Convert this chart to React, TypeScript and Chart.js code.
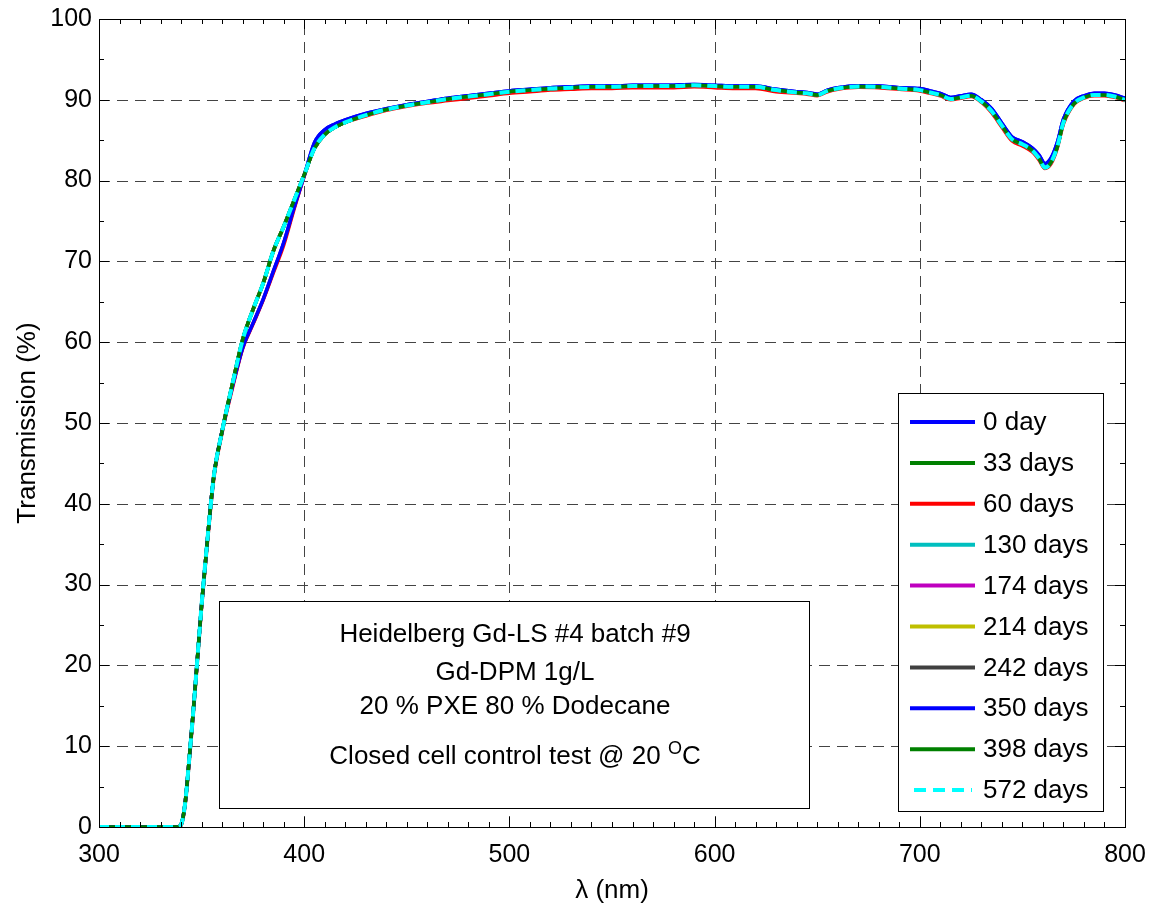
import React, { useEffect, useRef } from "react";
import { Chart, registerables } from "chart.js";

Chart.register(...registerables);

// ---- data ----
const wavelengths = [
  300, 320, 338, 340, 342, 344, 346, 348, 350, 353, 356, 360, 365, 370, 375, 380, 385, 390, 395, 400,
  405, 410, 415, 420, 430, 440, 450, 460, 470, 480, 490, 500, 510, 520, 530, 540, 550, 560, 570, 580,
  590, 600, 610, 620, 630, 640, 645, 650, 655, 660, 670, 680, 690, 700, 705, 710, 715, 720, 725, 730,
  735, 740, 745, 750, 755, 758, 761, 764, 767, 770, 775, 780, 785, 790, 795, 800,
];

const mainCurve = [
  0, 0, 0, 0.3, 3, 8.5, 14.5, 21, 27.5, 36, 43.5, 49, 54.8, 60.3, 64, 67.3, 71.3, 74.3, 77.5, 80.7,
  84, 85.7, 86.6, 87.2, 88.1, 88.8, 89.3, 89.7, 90.1, 90.4, 90.7, 91.0, 91.2, 91.4, 91.5, 91.6, 91.6, 91.7, 91.7, 91.7,
  91.8, 91.7, 91.6, 91.6, 91.2, 90.9, 90.8, 90.6, 91.1, 91.4, 91.65, 91.6, 91.4, 91.2, 90.9, 90.6, 90.1, 90.3, 90.5, 89.8,
  88.6, 86.8, 85.1, 84.5, 83.7, 82.8, 81.6, 82.3, 84.2, 87.2, 89.5, 90.3, 90.6, 90.6, 90.4, 90.0,
];

const blueCurve = [
  0, 0, 0, 0.3, 3, 8.5, 14.5, 21, 27.5, 36, 43.5, 49, 54.5, 59.3, 62.3, 65.3, 68.8, 72.3, 76.6, 80.6,
  84.7, 86.3, 87.0, 87.5, 88.3, 88.9, 89.4, 89.8, 90.2, 90.5, 90.8, 91.1, 91.3, 91.5, 91.6, 91.7, 91.7, 91.8, 91.8, 91.8,
  91.9, 91.8, 91.7, 91.7, 91.3, 91.0, 90.9, 90.7, 91.2, 91.5, 91.75, 91.7, 91.5, 91.4, 91.1, 90.8, 90.3, 90.5, 90.7, 90.0,
  88.9, 87.1, 85.4, 84.8, 84.0, 83.2, 82.1, 82.8, 84.7, 87.6, 89.8, 90.5, 90.8, 90.8, 90.6, 90.2,
];

const redCurve = [
  0, 0, 0, 0.2, 2.8, 8.2, 14.2, 20.7, 27.2, 35.7, 43.2, 48.8, 54.3, 59.2, 62.2, 65.2, 68.6, 72.0, 76.4, 80.5,
  84.2, 85.8, 86.6, 87.2, 88.0, 88.7, 89.2, 89.6, 89.9, 90.2, 90.5, 90.8, 91.0, 91.2, 91.3, 91.4, 91.4, 91.5, 91.5, 91.5,
  91.6, 91.5, 91.4, 91.4, 91.0, 90.8, 90.7, 90.5, 91.0, 91.3, 91.55, 91.5, 91.3, 91.1, 90.8, 90.5, 90.0, 90.2, 90.4, 89.7,
  88.4, 86.6, 84.9, 84.3, 83.5, 82.6, 81.5, 82.1, 84.0, 87.0, 89.4, 90.2, 90.5, 90.5, 90.3, 89.9,
];

const seriesLabels = [
  "0 day", "33 days", "60 days", "130 days", "174 days", "214 days", "242 days", "350 days", "398 days", "572 days",
];
const seriesValues = [
  blueCurve, mainCurve, redCurve, mainCurve, mainCurve, mainCurve, mainCurve, blueCurve, mainCurve, mainCurve,
];
const seriesColors = [
  "#0000ff", "#008000", "#ff0000", "#00bfbf", "#bf00bf", "#bfbf00", "#404040", "#0000ff", "#008000", "#00ffff",
];
const seriesDashed = [false, false, false, false, false, false, false, false, false, true];

const xTicks = [300, 400, 500, 600, 700, 800];
const yTicks = [0, 10, 20, 30, 40, 50, 60, 70, 80, 90, 100];

const noteLines = ["Heidelberg Gd-LS #4 batch #9", "Gd-DPM 1g/L", "20 % PXE 80 % Dodecane"];
const noteLast = ["Closed cell control test @ 20 ", "O", "C"];

const FONT = "'Liberation Sans', Arial, Helvetica, sans-serif";

const decorPlugin = {
  id: "decor",
  beforeDatasetsDraw(chart: any) {
    const { ctx, chartArea: a, scales } = chart;
    const xs = scales.x;
    const ys = scales.y;
    ctx.save();
    ctx.strokeStyle = "#444444";
    ctx.lineWidth = 1;
    ctx.setLineDash([11, 7]);
    xTicks.slice(1, -1).forEach((v) => {
      const px = Math.round(xs.getPixelForValue(v)) + 0.5;
      ctx.beginPath();
      ctx.moveTo(px, a.bottom);
      ctx.lineTo(px, a.top);
      ctx.stroke();
    });
    yTicks.slice(1, -1).forEach((v) => {
      const py = Math.round(ys.getPixelForValue(v)) + 0.5;
      ctx.beginPath();
      ctx.moveTo(a.left, py);
      ctx.lineTo(a.right, py);
      ctx.stroke();
    });
    ctx.restore();
  },
  afterDatasetsDraw(chart: any) {
    const { ctx, chartArea: a, scales } = chart;
    const xs = scales.x;
    const ys = scales.y;
    ctx.save();
    ctx.setLineDash([]);
    ctx.strokeStyle = "#000";
    ctx.lineWidth = 1;
    // frame
    ctx.strokeRect(Math.round(a.left) + 0.5, Math.round(a.top) + 0.5, Math.round(a.right - a.left), Math.round(a.bottom - a.top));
    // ticks x
    for (let v = 300; v <= 800; v += 10) {
      const px = Math.round(xs.getPixelForValue(v)) + 0.5;
      const len = v % 100 === 0 ? 10 : 5;
      ctx.beginPath();
      ctx.moveTo(px, a.bottom);
      ctx.lineTo(px, a.bottom - len);
      ctx.moveTo(px, a.top);
      ctx.lineTo(px, a.top + len);
      ctx.stroke();
    }
    for (let v = 0; v <= 100; v += 5) {
      const py = Math.round(ys.getPixelForValue(v)) + 0.5;
      const len = v % 10 === 0 ? 10 : 5;
      ctx.beginPath();
      ctx.moveTo(a.left, py);
      ctx.lineTo(a.left + len, py);
      ctx.moveTo(a.right, py);
      ctx.lineTo(a.right - len, py);
      ctx.stroke();
    }

    // annotation box
    const bx = 219.5, by = 601.5, bw = 590, bh = 207;
    ctx.fillStyle = "#fff";
    ctx.fillRect(bx, by, bw, bh);
    ctx.strokeRect(bx, by, bw, bh);
    ctx.fillStyle = "#000";
    ctx.font = `26px ${FONT}`;
    ctx.textAlign = "center";
    ctx.textBaseline = "alphabetic";
    const cx = 515;
    const baselines = [642, 680, 714];
    noteLines.forEach((t, i) => ctx.fillText(t, cx, baselines[i]));
    // last line with superscript
    ctx.textAlign = "left";
    const w0 = ctx.measureText(noteLast[0]).width;
    ctx.font = `18px ${FONT}`;
    const w1 = ctx.measureText(noteLast[1]).width;
    ctx.font = `26px ${FONT}`;
    const w2 = ctx.measureText(noteLast[2]).width;
    let sx = cx - (w0 + w1 + w2) / 2;
    const bl = 764;
    ctx.fillText(noteLast[0], sx, bl);
    sx += w0;
    ctx.font = `18px ${FONT}`;
    ctx.fillText(noteLast[1], sx, bl - 10);
    sx += w1;
    ctx.font = `26px ${FONT}`;
    ctx.fillText(noteLast[2], sx, bl);

    // legend box
    const lx = 898.5, ly = 393.5, lw = 205, lh = 418;
    ctx.fillStyle = "#fff";
    ctx.fillRect(lx, ly, lw, lh);
    ctx.strokeStyle = "#000";
    ctx.lineWidth = 1;
    ctx.strokeRect(lx, ly, lw, lh);
    const rowY0 = 422;
    const rowStep = 40.9;
    ctx.font = `26px ${FONT}`;
    ctx.textBaseline = "middle";
    ctx.textAlign = "left";
    seriesLabels.forEach((lab, i) => {
      const yy = rowY0 + i * rowStep;
      ctx.save();
      ctx.strokeStyle = seriesColors[i];
      ctx.lineWidth = 4;
      if (seriesDashed[i]) {
        ctx.setLineDash([12, 7]);
        ctx.beginPath();
        ctx.moveTo(914, yy);
        ctx.lineTo(972, yy);
        ctx.stroke();
      } else {
        ctx.beginPath();
        ctx.moveTo(910, yy);
        ctx.lineTo(975, yy);
        ctx.stroke();
      }
      ctx.restore();
      ctx.fillStyle = "#000";
      ctx.fillText(lab, 983, yy + 1);
    });
    ctx.restore();
  },
};

export default function App() {
  const canvasRef = useRef<HTMLCanvasElement | null>(null);

  useEffect(() => {
    document.body.style.margin = "0";
    const canvas = canvasRef.current;
    if (!canvas) return;
    const n = seriesLabels.length;
    const datasets = seriesLabels.map((label, i) => ({
      label,
      data: wavelengths.map((w, k) => ({ x: w, y: seriesValues[i][k] })),
      borderColor: seriesColors[i],
      backgroundColor: seriesColors[i],
      borderWidth: seriesDashed[i] ? 4 : 3.5,
      borderDash: seriesDashed[i] ? [10, 6] : [],
      pointRadius: 0,
      cubicInterpolationMode: "monotone" as const,
      fill: false,
      order: n - 1 - i,
    }));

    const chart = new Chart(canvas, {
      type: "line",
      data: { datasets },
      options: {
        responsive: false,
        animation: false,
        devicePixelRatio: 1,
        layout: { padding: { top: 19, right: 24, left: 0, bottom: 0 } },
        plugins: {
          legend: { display: false },
          tooltip: { enabled: false },
        },
        scales: {
          x: {
            type: "linear",
            min: 300,
            max: 800,
            afterFit: (s: any) => {
              s.height = 79;
              s.paddingLeft = 0;
              s.paddingRight = 0;
            },
            afterBuildTicks: (s: any) => {
              s.ticks = xTicks.map((v) => ({ value: v }));
            },
            grid: { display: false, drawTicks: false },
            border: { display: false },
            ticks: {
              color: "#000",
              font: { size: 25, family: FONT },
              padding: 13,
              maxRotation: 0,
              autoSkip: false,
            },
            title: {
              display: true,
              text: "λ (nm)",
              color: "#000",
              font: { size: 26, family: FONT },
              padding: { top: 0, bottom: 0 },
            },
          },
          y: {
            type: "linear",
            min: 0,
            max: 100,
            afterFit: (s: any) => {
              s.width = 99;
              s.paddingTop = 0;
              s.paddingBottom = 0;
            },
            afterBuildTicks: (s: any) => {
              s.ticks = yTicks.map((v) => ({ value: v }));
            },
            grid: { display: false, drawTicks: false },
            border: { display: false },
            ticks: {
              color: "#000",
              font: { size: 25, family: FONT },
              padding: 7,
              autoSkip: false,
            },
            title: {
              display: true,
              text: "Transmission (%)",
              color: "#000",
              font: { size: 26, family: FONT },
              padding: { top: 12, bottom: 0 },
            },
          },
        },
      },
      plugins: [decorPlugin],
    });
    return () => chart.destroy();
  }, []);

  return (
    <div style={{ position: "absolute", left: 0, top: 0, width: 1149, height: 906, background: "#fff" }}>
      <canvas ref={canvasRef} width={1149} height={906} style={{ width: 1149, height: 906, display: "block" }} />
    </div>
  );
}
